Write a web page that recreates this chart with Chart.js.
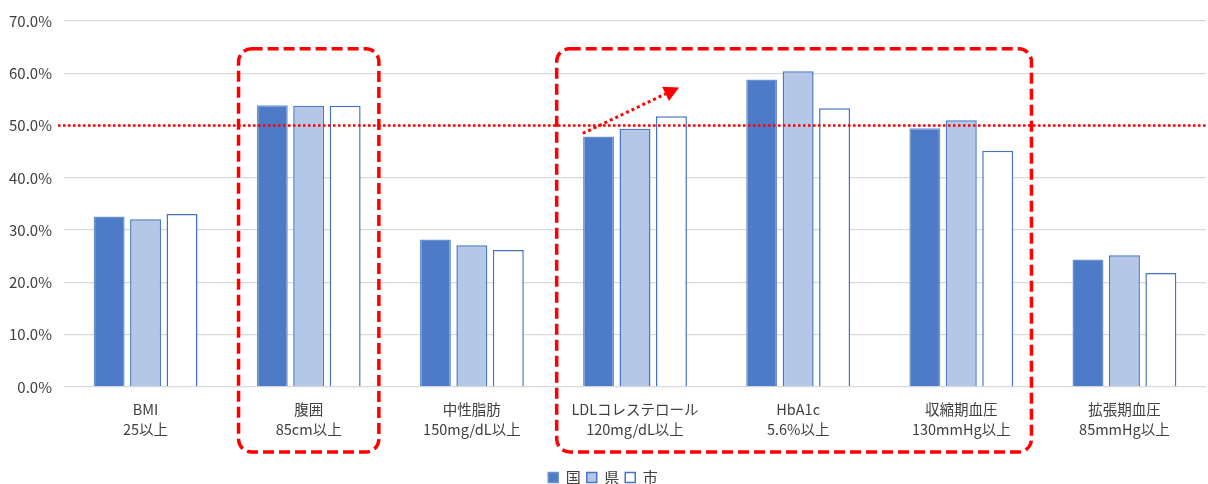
<!DOCTYPE html>
<html lang="ja">
<head>
<meta charset="utf-8">
<title>健診有所見者割合</title>
<script src="https://cdn.jsdelivr.net/npm/chart.js@4/dist/chart.umd.min.js"></script>
<style>
  html, body { margin: 0; padding: 0; background: #fff; }
  #wrap { position: relative; width: 1208px; height: 484px; }
</style>
</head>
<body>
<div id="wrap"><canvas id="chart"></canvas></div>
<script>
const categories = [
  ["BMI", "25以上"],
  ["腹囲", "85cm以上"],
  ["中性脂肪", "150mg/dL以上"],
  ["LDLコレステロール", "120mg/dL以上"],
  ["HbA1c", "5.6%以上"],
  ["収縮期血圧", "130mmHg以上"],
  ["拡張期血圧", "85mmHg以上"]
];
const seriesNames = ["国", "県", "市"];
const kuni = [32.6, 53.9, 28.2, 47.9, 58.8, 49.5, 24.4];
const ken = [32.1, 53.8, 27.1, 49.4, 60.4, 51.0, 25.2];
const shi = [33.1, 53.8, 26.2, 51.8, 53.3, 45.2, 21.8];
const yTicks = [0, 10, 20, 30, 40, 50, 60, 70];
const threshold = 50;
// highlighted category ranges (first index, last index)
const highlightGroups = [[1, 1], [3, 5]];

const FONT = "'Noto Sans CJK JP', 'Noto Sans', sans-serif";
const RED = "#ff0000";

// red marks drawn on top: 50% dotted line, dashed boxes, trend arrow
const notes = {
  id: "notes",
  afterDraw(chart) {
    const { ctx, chartArea, scales } = chart;
    const x = scales.x;
    const y = scales.y;
    ctx.save();
    ctx.strokeStyle = RED;
    ctx.fillStyle = RED;

    // threshold line
    const ty = y.getPixelForValue(threshold);
    ctx.lineWidth = 2.5;
    ctx.setLineDash([2.5, 2.5]);
    ctx.beginPath();
    ctx.moveTo(chartArea.left - 6, ty);
    ctx.lineTo(chart.width, ty);
    ctx.stroke();

    // dashed rounded boxes
    ctx.lineWidth = 3.5;
    ctx.setLineDash([11, 5]);
    const pads = [[0.43, 0.43], [0.48, 0.43]];
    highlightGroups.forEach(([a, b], i) => {
      const l = x.getPixelForValue(a - pads[i][0]);
      const r = x.getPixelForValue(b + pads[i][1]);
      const t = y.getPixelForValue(64.7);
      const bt = chartArea.bottom + 65;
      ctx.beginPath();
      ctx.roundRect(l, t, r - l, bt - t, 13);
      ctx.stroke();
    });

    // trend arrow over LDL
    const x0 = x.getPixelForValue(3 - 0.32), y0 = y.getPixelForValue(48.5);
    const x1 = x.getPixelForValue(3 + 0.27), y1 = y.getPixelForValue(57.3);
    const ang = Math.atan2(y1 - y0, x1 - x0);
    const len = 15, half = 8;
    const bx = x1 - len * Math.cos(ang), by = y1 - len * Math.sin(ang);
    ctx.lineWidth = 3;
    ctx.setLineDash([3, 3]);
    ctx.beginPath();
    ctx.moveTo(x0, y0);
    ctx.lineTo(bx, by);
    ctx.stroke();
    ctx.setLineDash([]);
    ctx.beginPath();
    ctx.moveTo(x1, y1);
    ctx.lineTo(bx + half * Math.sin(ang), by - half * Math.cos(ang));
    ctx.lineTo(bx - half * Math.sin(ang), by + half * Math.cos(ang));
    ctx.closePath();
    ctx.fill();
    ctx.restore();
  }
};

const barStyle = { borderWidth: 1.5, categoryPercentage: 0.67, barPercentage: 0.85 };

new Chart(document.getElementById("chart"), {
  type: "bar",
  data: {
    labels: categories,
    datasets: [
      { label: seriesNames[0], data: kuni, backgroundColor: "#4e7bc7", borderColor: "#6a92d2", ...barStyle },
      { label: seriesNames[1], data: ken, backgroundColor: "#b4c7e7", borderColor: "#4a78c4", ...barStyle },
      { label: seriesNames[2], data: shi, backgroundColor: "#ffffff", borderColor: "#4472c4", ...barStyle }
    ]
  },
  options: {
    responsive: true,
    maintainAspectRatio: false,
    animation: false,
    devicePixelRatio: 1,
    layout: { padding: { top: 21, right: 2, left: 0, bottom: -11 } },
    plugins: {
      tooltip: { enabled: false },
      legend: {
        position: "bottom",
        labels: {
          font: { family: FONT, size: 15 },
          color: "#404040",
          boxWidth: 10,
          boxHeight: 10,
          padding: 6
        }
      }
    },
    scales: {
      x: {
        grid: { display: false },
        border: { display: false },
        ticks: {
          font: { family: FONT, size: 14.5, lineHeight: 1.4 },
          color: "#404040",
          padding: 4,
          maxRotation: 0,
          autoSkip: false
        },
        afterFit(s) { s.height = 77; }
      },
      y: {
        min: 0,
        max: 70,
        border: { display: false },
        grid: { color: "#d9d9d9", lineWidth: 1.3, drawTicks: false },
        afterBuildTicks(s) { s.ticks = yTicks.map(v => ({ value: v })); },
        ticks: {
          font: { family: FONT, size: 15 },
          color: "#404040",
          padding: 12,
          callback: v => v.toFixed(1) + "%"
        },
        afterFit(s) { s.width = 64; }
      }
    }
  },
  plugins: [notes]
});
</script>
</body>
</html>
